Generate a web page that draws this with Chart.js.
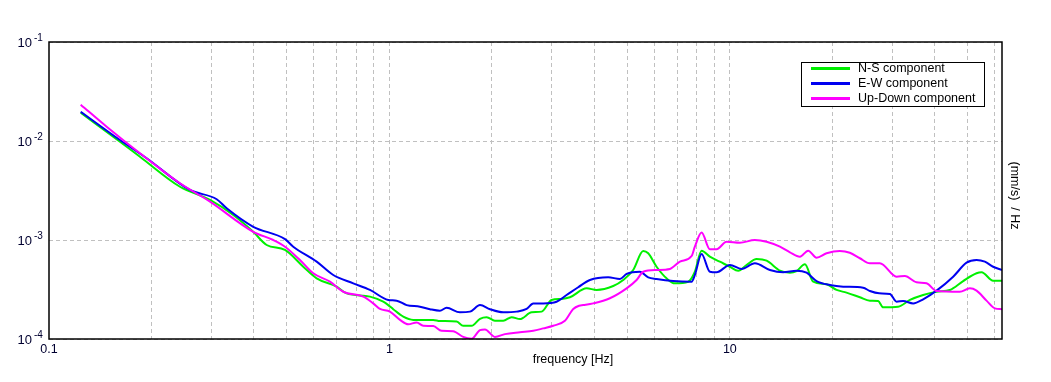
<!DOCTYPE html>
<html>
<head>
<meta charset="utf-8">
<script src="https://cdn.jsdelivr.net/npm/chart.js@4.4.1/dist/chart.umd.min.js"></script>
<style>
    body { margin: 0; background: #ffffff; }
    #chart-area { display: block; }
</style>
</head>
<body>
<canvas id="chart-area" width="1051" height="382"></canvas>
<script>
var seriesLabels = ['N-S component', 'E-W component', 'Up-Down component'];
var seriesColors = ['#00f000', '#0000f0', '#ff00ff'];

var nsFreq = [0.1239, 0.1616, 0.1850, 0.2425, 0.2971, 0.3477, 0.3981, 0.4359, 0.4934, 0.5583, 0.6112, 0.6998, 0.7486, 0.8765, 0.9590,
    0.992, 1.026, 1.098, 1.175, 1.345, 1.407, 1.576, 1.647, 1.743, 1.845, 1.930, 2.041, 2.159, 2.285, 2.417, 2.617, 2.799, 2.995, 3.204,
    3.389, 3.795, 4.060, 4.543, 4.861, 5.200, 5.565, 5.756, 6.091, 6.517, 6.895, 7.543, 7.892, 8.258, 8.734, 9.346, 10.0,
    10.58, 11.19, 11.98, 12.82, 14.03, 15.01, 15.70, 16.61, 17.57, 19.23, 20.58, 22.01, 24.09, 25.78, 27.26, 28.20, 31.21, 33.79,
    36.96, 40.47, 44.28, 48.44, 53.04, 54.86, 59.33, 63.0];
var nsVal = [1.931e-2, 9.84e-3, 6.94e-3, 3.45e-3, 2.54e-3, 1.79e-3, 1.21e-3, 8.90e-4, 7.93e-4, 5.37e-4, 4.10e-4, 3.38e-4, 2.89e-4, 2.68e-4, 2.38e-4,
    2.20e-4, 2.00e-4, 1.68e-4, 1.56e-4, 1.56e-4, 1.52e-4, 1.50e-4, 1.36e-4, 1.36e-4, 1.60e-4, 1.66e-4, 1.53e-4, 1.53e-4, 1.66e-4, 1.59e-4, 1.86e-4, 1.89e-4, 2.48e-4, 2.54e-4,
    2.64e-4, 3.25e-4, 3.13e-4, 3.43e-4, 3.94e-4, 4.98e-4, 7.74e-4, 7.34e-4, 5.37e-4, 4.10e-4, 3.65e-4, 3.79e-4, 4.78e-4, 7.80e-4, 6.78e-4, 6.04e-4, 5.37e-4,
    4.90e-4, 5.59e-4, 6.43e-4, 6.18e-4, 4.90e-4, 4.67e-4, 4.86e-4, 5.68e-4, 3.79e-4, 3.57e-4, 3.13e-4, 2.94e-4, 2.64e-4, 2.44e-4, 2.42e-4, 2.09e-4, 2.12e-4, 2.48e-4,
    2.78e-4, 3.00e-4, 3.13e-4, 3.85e-4, 4.61e-4, 4.72e-4, 3.88e-4, 3.87e-4];

var ewFreq = [0.1239, 0.1616, 0.1936, 0.2595, 0.3109, 0.3326, 0.3981, 0.4934, 0.5218, 0.6112, 0.6839, 0.7830, 0.8765, 0.992,
    1.050, 1.123, 1.229, 1.315, 1.407, 1.472, 1.611, 1.724, 1.845, 1.974, 2.159, 2.363, 2.529, 2.645, 2.830, 3.097, 3.314, 3.585,
    3.880, 4.391, 4.753, 4.973, 5.441, 5.756, 6.091, 6.817, 7.719, 7.892, 8.258, 8.734, 9.140, 10.0,
    10.82, 11.84, 13.11, 14.34, 15.70, 16.80, 17.97, 19.67, 21.52, 24.63, 25.78, 27.45, 29.51, 30.88, 32.28, 34.54, 36.96,
    40.47, 45.28, 49.57, 53.04, 56.10, 59.33, 63.0];
var ewVal = [1.977e-2, 1.023e-2, 6.69e-3, 3.20e-3, 2.58e-3, 2.09e-3, 1.36e-3, 1.02e-3, 8.56e-4, 6.04e-4, 4.43e-4, 3.65e-4, 3.13e-4, 2.48e-4,
    2.44e-4, 2.20e-4, 2.12e-4, 2.00e-4, 1.93e-4, 2.07e-4, 1.86e-4, 1.89e-4, 2.20e-4, 2.00e-4, 1.86e-4, 1.89e-4, 2.01e-4, 2.29e-4, 2.29e-4, 2.38e-4, 2.78e-4, 3.33e-4,
    3.94e-4, 4.20e-4, 4.04e-4, 4.54e-4, 4.78e-4, 4.20e-4, 4.04e-4, 3.85e-4, 3.79e-4, 4.43e-4, 7.22e-4, 4.78e-4, 4.72e-4, 5.59e-4,
    5.10e-4, 5.82e-4, 4.98e-4, 4.72e-4, 4.90e-4, 4.67e-4, 3.85e-4, 3.51e-4, 3.38e-4, 3.30e-4, 3.05e-4, 2.89e-4, 2.85e-4, 2.38e-4, 2.42e-4, 2.29e-4, 2.52e-4,
    3.08e-4, 4.26e-4, 5.90e-4, 6.28e-4, 6.04e-4, 5.37e-4, 4.98e-4];

var udFreq = [0.1239, 0.1477, 0.1850, 0.2425, 0.2971, 0.3981, 0.4557, 0.4934, 0.5459, 0.5973, 0.6688, 0.7317, 0.8378, 0.8962, 0.9379,
    1.003, 1.074, 1.136, 1.202, 1.257, 1.345, 1.423, 1.539, 1.647, 1.743, 1.845, 1.908, 2.041, 2.184, 2.417, 2.645, 2.830, 3.028, 3.277, 3.467,
    3.609, 3.709, 3.968, 4.442, 4.973, 5.321, 5.565, 6.091, 6.664, 7.132, 7.719, 7.892, 8.258, 8.734, 9.140, 9.779,
    10.70, 11.84, 12.82, 14.03, 15.01, 16.06, 16.98, 17.97, 19.23, 21.04, 22.51, 24.09, 25.78, 27.58, 30.88, 32.66, 35.35, 37.82,
    40.47, 47.37, 50.68, 53.04, 56.74, 60.02, 63.0];
var udVal = [2.326e-2, 1.394e-2, 7.51e-3, 3.74e-3, 2.44e-3, 1.21e-3, 1.00e-3, 8.56e-4, 6.28e-4, 4.61e-4, 3.79e-4, 3.00e-4, 2.68e-4, 2.29e-4, 2.01e-4,
    1.89e-4, 1.56e-4, 1.41e-4, 1.47e-4, 1.36e-4, 1.35e-4, 1.21e-4, 1.20e-4, 1.05e-4, 1.007e-4, 1.23e-4, 1.25e-4, 1.05e-4, 1.12e-4, 1.17e-4, 1.21e-4, 1.28e-4, 1.36e-4, 1.53e-4, 2.01e-4,
    2.17e-4, 2.20e-4, 2.29e-4, 2.58e-4, 3.25e-4, 3.94e-4, 4.78e-4, 4.98e-4, 5.10e-4, 6.04e-4, 6.89e-4, 8.56e-4, 1.19e-3, 8.06e-4, 8.06e-4, 9.61e-4,
    9.39e-4, 1.00e-3, 9.61e-4, 8.56e-4, 7.51e-4, 6.78e-4, 7.80e-4, 6.63e-4, 7.34e-4, 7.74e-4, 7.44e-4, 6.54e-4, 5.82e-4, 5.82e-4, 4.26e-4, 4.33e-4, 3.74e-4, 3.65e-4,
    3.05e-4, 3.00e-4, 3.25e-4, 3.08e-4, 2.44e-4, 2.04e-4, 2.00e-4];

// axis ranges, grid positions and tick labels
var xMin = 0.1, xMax = 63;
var yMin = 1e-4, yMax = 1e-1;
var xGrid = [0.2, 0.3, 0.4, 0.5, 0.6, 0.7, 0.8, 0.9, 1, 2, 3, 4, 5, 6, 7, 8, 9, 10, 20, 30, 40, 50, 60];
var xTickValues = [0.1, 1, 10];
var xTickLabels = ['0.1', '1', '10'];
var yTickValues = [1e-1, 1e-2, 1e-3, 1e-4];
var yTickExp = ['-1', '-2', '-3', '-4'];
var xTitle = 'frequency [Hz]';
var yTitle = '(mm/s)  / Hz';

function toPoints(fs, vs) {
    var pts = [];
    for (var i = 0; i < fs.length; i++) {
        pts.push({x: fs[i], y: vs[i]});
    }
    return pts;
}

var labelsPlugin = {
    id: 'psdLabels',
    afterDraw: function (chart) {
        var ctx = chart.ctx;
        var area = chart.chartArea;
        var xs = chart.scales.x;
        var ys = chart.scales.y;
        var font = '"Liberation Sans", Arial, sans-serif';
        ctx.save();

        // frame
        ctx.strokeStyle = '#000000';
        ctx.lineWidth = 1.5;
        ctx.strokeRect(area.left, area.top, area.right - area.left, area.bottom - area.top);

        // y tick labels: 10 with exponent
        ctx.fillStyle = '#000030';
        ctx.textBaseline = 'middle';
        for (var i = 0; i < yTickValues.length; i++) {
            var py = ys.getPixelForValue(yTickValues[i]);
            ctx.font = '13px ' + font;
            ctx.textAlign = 'right';
            ctx.fillText('10', 32, py + 1);
            ctx.font = '10px ' + font;
            ctx.textAlign = 'left';
            ctx.fillText(yTickExp[i], 34, py - 4);
        }

        // x tick labels
        ctx.font = '12.5px ' + font;
        ctx.textAlign = 'center';
        for (var j = 0; j < xTickValues.length; j++) {
            ctx.fillText(xTickLabels[j], xs.getPixelForValue(xTickValues[j]), area.bottom + 11);
        }
        ctx.fillStyle = '#000000';
        ctx.fillText(xTitle, 573, area.bottom + 21);

        // y title on the right, rotated
        ctx.save();
        ctx.translate(area.right + 12, (area.top + area.bottom) / 2 + 5);
        ctx.rotate(Math.PI / 2);
        ctx.fillText(yTitle, 0, 0);
        ctx.restore();

        // legend box
        var lx = 801, ly = 62, lw = 183, lh = 44;
        ctx.fillStyle = '#ffffff';
        ctx.fillRect(lx, ly, lw, lh);
        ctx.strokeStyle = '#000000';
        ctx.lineWidth = 1;
        ctx.strokeRect(lx + 0.5, ly + 0.5, lw, lh);
        ctx.textAlign = 'left';
        for (var k = 0; k < seriesLabels.length; k++) {
            var ry = ly + 6.5 + k * 15;
            ctx.strokeStyle = seriesColors[k];
            ctx.lineWidth = 3;
            ctx.beginPath();
            ctx.moveTo(lx + 10, ry);
            ctx.lineTo(lx + 49, ry);
            ctx.stroke();
            ctx.fillStyle = '#000000';
            ctx.fillText(seriesLabels[k], lx + 57, ry);
        }
        ctx.restore();
    }
};

var config = {
    type: 'line',
    data: {
        datasets: [{
                label: seriesLabels[0],
                data: toPoints(nsFreq, nsVal),
                borderColor: seriesColors[0],
                order: 2
            }, {
                label: seriesLabels[1],
                data: toPoints(ewFreq, ewVal),
                borderColor: seriesColors[1],
                order: 1
            }, {
                label: seriesLabels[2],
                data: toPoints(udFreq, udVal),
                borderColor: seriesColors[2],
                order: 0
            }]
    },
    options: {
        responsive: false,
        animation: false,
        events: [],
        layout: {
            padding: {left: 49, top: 42, right: 49, bottom: 43}
        },
        elements: {
            point: {radius: 0},
            line: {borderWidth: 2, cubicInterpolationMode: 'monotone', fill: false}
        },
        plugins: {
            legend: {display: false},
            tooltip: {enabled: false}
        },
        scales: {
            x: {
                type: 'logarithmic',
                min: xMin,
                max: xMax,
                afterBuildTicks: function (axis) {
                    axis.ticks = xGrid.map(function (v) { return {value: v}; });
                },
                ticks: {display: false},
                grid: {color: '#c0c0c0', drawTicks: false, lineWidth: 1},
                border: {display: false, dash: [4, 3]}
            },
            y: {
                type: 'logarithmic',
                min: yMin,
                max: yMax,
                afterBuildTicks: function (axis) {
                    axis.ticks = yTickValues.map(function (v) { return {value: v}; });
                },
                ticks: {display: false},
                grid: {color: '#c0c0c0', drawTicks: false, lineWidth: 1},
                border: {display: false, dash: [4, 3]}
            }
        }
    },
    plugins: [labelsPlugin]
};

var ctx = document.getElementById("chart-area").getContext("2d");
var myChart = new Chart(ctx, config);
</script>
</body>
</html>
